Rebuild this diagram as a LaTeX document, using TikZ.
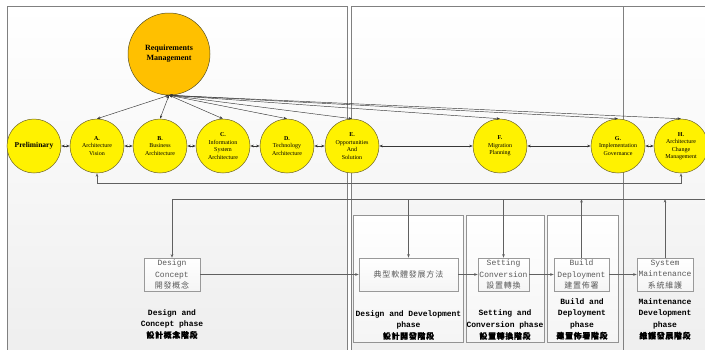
\documentclass[tikz,border=0pt]{standalone}
\usepackage{fontspec}
\setmainfont{Liberation Serif}
\setmonofont{Liberation Mono}
\newfontfamily\cjk{Noto Sans CJK TC}[LetterSpace=10]
\newfontfamily\cjkb{Noto Sans CJK TC}[LetterSpace=8,FakeBold=0.5]
\usetikzlibrary{arrows.meta}
\definecolor{panelgray}{RGB}{128,128,128}
\definecolor{panelbot}{RGB}{238,238,238}
\definecolor{orangeRM}{RGB}{255,192,0}
\definecolor{circborder}{RGB}{110,100,40}
\definecolor{linegray}{RGB}{55,55,55}
\definecolor{boxtext}{RGB}{90,90,90}
\begin{document}
\begin{tikzpicture}[x=1pt,y=-1pt,
  >={Stealth[length=3.5pt,width=2.6pt]},
  panel/.style={draw=panelgray, line width=1pt, top color=white, bottom color=panelbot},
  subpanel/.style={draw=gray!85, line width=0.6pt, top color=white, bottom color=panelbot!60!white},
  phasecirc/.style={circle, draw=circborder, line width=0.5pt, fill=yellow, minimum size=54pt, inner sep=0pt, align=center, font=\fontsize{6}{7.5}\selectfont},
  reqcirc/.style={circle, draw=circborder!80!black, line width=0.5pt, fill=orangeRM, minimum size=82pt, inner sep=0pt, align=center, font=\fontsize{8}{10}\selectfont\bfseries},
  conn/.style={draw=linegray, line width=0.45pt},
  bus/.style={draw=gray!75!black, line width=0.6pt},
  stepbox/.style={draw=gray!80, line width=0.6pt, top color=white, bottom color=gray!8, font=\fontsize{8}{11.5}\selectfont\ttfamily, text=boxtext, align=center, inner sep=1pt, minimum height=33pt},
  phaselabel/.style={font=\fontsize{8}{11.5}\selectfont\ttfamily\bfseries, align=center, inner sep=0pt}
]
\useasboundingbox (0,0) rectangle (705,349);
\clip (0,0) rectangle (705,349);
\fill[white] (0,0) rectangle (705,349);

% panels
\path[panel] (7,6) rectangle (347,360);
\path[panel] (351,6) rectangle (623,360);
\path[panel] (623,6) rectangle (715,360);
\path[subpanel] (353,215) rectangle (463,342);
\path[subpanel] (466,215) rectangle (544,342);
\path[subpanel] (547,215) rectangle (618,342);

% circles
\node[reqcirc] (req) at (169,54) {Requirements\\Management};
\node[phasecirc] (P) at (34,146) {\fontsize{7.5}{9}\selectfont\bfseries Preliminary};
\node[phasecirc] (A) at (97,146) {\textbf{A.}\\Architecture\\Vision};
\node[phasecirc] (B) at (160,146) {\textbf{B.}\\Business\\Architecture};
\node[phasecirc] (C) at (223,146) {\textbf{C.}\\Information\\System\\Architecture};
\node[phasecirc] (D) at (287,146) {\textbf{D.}\\Technology\\Architecture};
\node[phasecirc] (E) at (352,146) {\textbf{E.}\\Opportunities\\And\\Solution};
\node[phasecirc] (F) at (500,146) {\textbf{F.}\\Migration\\Planning};
\node[phasecirc] (G) at (618,146) {\textbf{G.}\\Implementation\\Governance};
\node[phasecirc] (H) at (681,146) {\textbf{H.}\\Architecture\\Change\\Management};

% requirements links
\foreach \n in {A,B,C,D,E,F,G,H}
  \draw[conn,<->] (req.south) -- (\n.north);

% horizontal links
\draw[conn,<->] (P) -- (A);
\draw[conn,<->] (A) -- (B);
\draw[conn,<->] (B) -- (C);
\draw[conn,<->] (C) -- (D);
\draw[conn,<->] (D) -- (E);
\draw[conn,<->] (E) -- (F);
\draw[conn,<->] (F) -- (G);
\draw[conn,<->] (G) -- (H);

% bus 1
\draw[bus,<->] (A.south) -- ++(0,10) -| (H.south);

% step boxes
\node[stepbox, minimum width=56pt] (dc) at (172,274.5) {Design\\Concept\\{\cjk 開發概念}};
\node[stepbox, minimum width=99pt] (dev) at (408.5,274.5) {{\cjk 典型軟體發展方法}};
\node[stepbox, minimum width=51pt] (set) at (503.5,274.5) {Setting\\Conversion\\{\cjk 設置轉換}};
\node[stepbox, minimum width=55pt] (bld) at (581.5,274.5) {Build\\Deployment\\{\cjk 建置佈署}};
\node[stepbox, minimum width=56pt] (mnt) at (665,274.5) {System\\Maintenance\\{\cjk 系統維護}};

% bus 2
\coordinate (bus2L) at (172,199);
\coordinate (bus2R) at (705,199);
\draw[bus] (bus2L) -- (bus2R);
\draw[bus,->] (bus2L) -- (dc.north);
\draw[bus,->] (dev.north |- bus2L) -- (dev.north);
\draw[bus,->] (set.north |- bus2L) -- (set.north);
\draw[bus,->] (bld.north) -- (bld.north |- bus2L);
\draw[bus,->] (mnt.north) -- (mnt.north |- bus2L);

% chain
\draw[bus,->] (dc) -- (dev);
\draw[bus,->] (dev) -- (set);
\draw[bus,->] (set) -- (bld);
\draw[bus,->] (bld) -- (mnt);

% phase labels
\node[phaselabel] (l1) at (172,324) {Design and\\Concept phase\\{\cjkb 設計概念階段}};
\node[phaselabel] (l2) at (408.5,325) {Design and Development\\phase\\{\cjkb 設計開發階段}};
\node[phaselabel] (l3) at (505,325) {Setting and\\Conversion phase\\{\cjkb 設置轉換階段}};
\node[phaselabel] (l4) at (582,319) {Build and\\Deployment\\phase\\{\cjkb 建置佈署階段}};
\node[phaselabel] (l5) at (665,319) {Maintenance\\Development\\phase\\{\cjkb 維護發展階段}};
\end{tikzpicture}
\end{document}
